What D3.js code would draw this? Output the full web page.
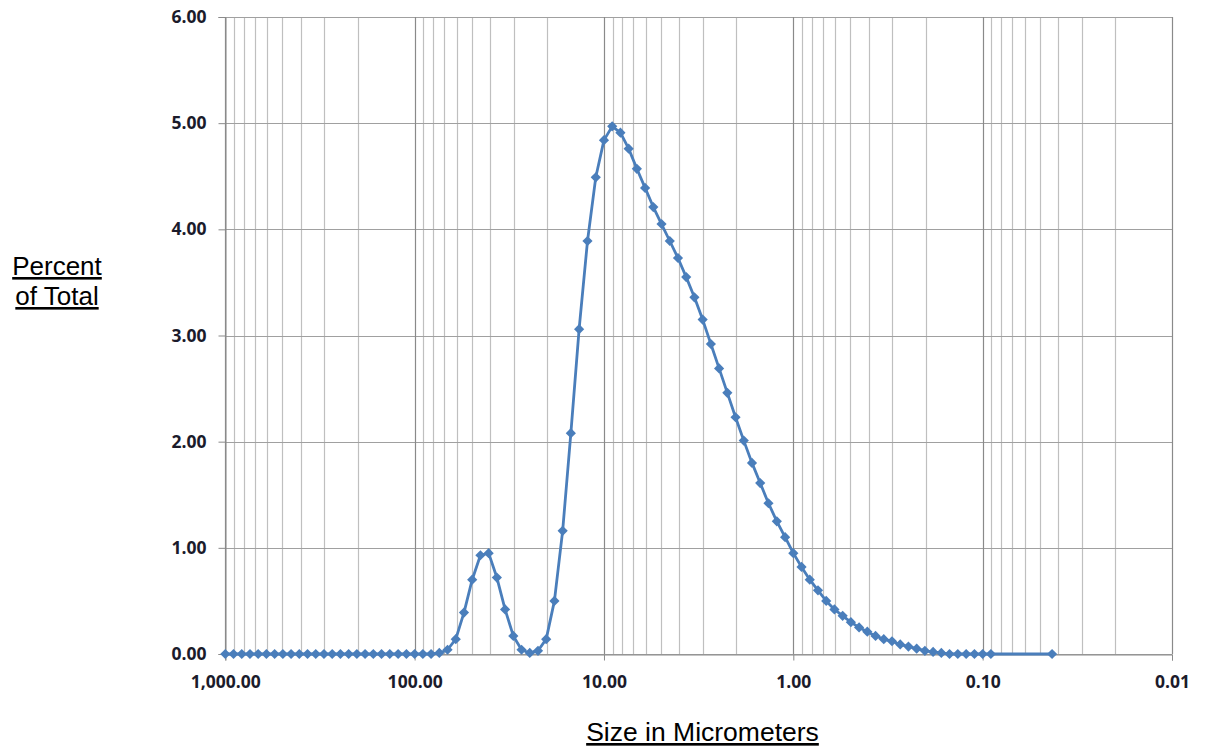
<!DOCTYPE html>
<html>
<head>
<meta charset="utf-8">
<script src="https://cdn.jsdelivr.net/npm/d3@7"></script>
<style>
  html, body { margin: 0; padding: 0; background: #ffffff; }
  svg { display: block; }
</style>
</head>
<body>
<svg id="chart" width="1206" height="751"></svg>
<script>
// ---------------- DATA ----------------
const sizes = [
  1000, 904.8, 818.7, 740.8, 670.3, 606.5, 548.8, 496.6, 449.3, 406.6, 367.9, 332.9,
  301.2, 272.5, 246.6, 223.1, 201.9, 182.7, 165.3, 149.6, 135.3, 122.2, 110.5,
  100, 90.48, 81.87, 74.08, 67.03, 60.65, 54.88, 49.66, 44.93, 40.66, 36.79, 33.29,
  30.12, 27.25, 24.66, 22.31, 20.19, 18.27, 16.53, 14.96, 13.53, 12.22, 11.05,
  10, 9.048, 8.187, 7.408, 6.703, 6.065, 5.488, 4.966, 4.493, 4.066, 3.679, 3.329,
  3.012, 2.725, 2.466, 2.231, 2.019, 1.827, 1.653, 1.496, 1.353, 1.222, 1.105,
  1, 0.9048, 0.8187, 0.7408, 0.6703, 0.6065, 0.5488, 0.4966, 0.4493, 0.4066, 0.3679, 0.3329,
  0.3012, 0.2725, 0.2466, 0.2231, 0.2019, 0.1827, 0.1653, 0.1496, 0.1353, 0.1222, 0.1105,
  0.1, 0.0905, 0.043
];
const percents = [
  0, 0, 0, 0, 0, 0, 0, 0, 0, 0, 0, 0,
  0, 0, 0, 0, 0, 0, 0, 0, 0, 0, 0,
  0, 0, 0, 0.01, 0.04, 0.14, 0.39, 0.70, 0.93, 0.95, 0.72, 0.42,
  0.17, 0.04, 0.01, 0.03, 0.14, 0.50, 1.16, 2.08, 3.06, 3.89, 4.49,
  4.84, 4.97, 4.91, 4.76, 4.57, 4.39, 4.21, 4.05, 3.89, 3.73, 3.55, 3.36,
  3.15, 2.92, 2.69, 2.46, 2.23, 2.01, 1.80, 1.61, 1.42, 1.25, 1.10,
  0.95, 0.82, 0.70, 0.60, 0.50, 0.42, 0.36, 0.30, 0.25, 0.21, 0.17, 0.14,
  0.12, 0.09, 0.07, 0.05, 0.03, 0.02, 0.01, 0, 0, 0, 0, 0,
  0, 0, 0
];
const xTickValues = [1000, 100, 10, 1, 0.1, 0.01];
const yTickValues = [0, 1, 2, 3, 4, 5, 6];
const yTitleLines = ["Percent", "of Total"];
const xTitle = "Size in Micrometers";

// ---------------- LAYOUT ----------------
const plot = { left: 225.3, right: 1172, top: 17, bottom: 654 };
const svg = d3.select("#chart");

const x = d3.scaleLog().domain([1000, 0.01]).range([plot.left, plot.right]);
const y = d3.scaleLinear().domain([0, 6]).range([plot.bottom, plot.top]);

const data = sizes.map((s, i) => ({ s, v: percents[i] }));

// ---------------- GRID ----------------
const gridVals = x.ticks();
const isMajor = v => Math.abs(Math.log10(v) - Math.round(Math.log10(v))) < 1e-6;

const grid = svg.append("g").attr("class", "grid");
grid.selectAll("line.minor")
  .data(gridVals.filter(v => !isMajor(v)))
  .join("line")
  .attr("x1", d => Math.round(x(d)) + 0.5).attr("x2", d => Math.round(x(d)) + 0.5)
  .attr("y1", plot.top).attr("y2", plot.bottom)
  .attr("stroke", "#bfbfbf").attr("stroke-width", 1.2);

grid.selectAll("line.h")
  .data(yTickValues)
  .join("line")
  .attr("x1", plot.left).attr("x2", plot.right)
  .attr("y1", d => Math.round(y(d)) + 0.5).attr("y2", d => Math.round(y(d)) + 0.5)
  .attr("stroke", "#a0a0a0").attr("stroke-width", 1.2);

grid.selectAll("line.major")
  .data(gridVals.filter(isMajor))
  .join("line")
  .attr("x1", d => Math.round(x(d)) + 0.5).attr("x2", d => Math.round(x(d)) + 0.5)
  .attr("y1", plot.top).attr("y2", plot.bottom)
  .attr("stroke", "#8a8a8a").attr("stroke-width", 1.2);

// ---------------- AXES ----------------
const labelFont = "'Open Sans', sans-serif";

const yAxis = svg.append("g")
  .attr("transform", `translate(${Math.round(plot.left) + 0.5},0)`)
  .call(d3.axisLeft(y).tickValues(yTickValues).tickFormat(d3.format(".2f")).tickSize(7).tickPadding(12));
yAxis.select(".domain").attr("stroke", "#8a8a8a");
yAxis.selectAll(".tick line").attr("stroke", "#8a8a8a");
yAxis.selectAll(".tick text")
  .attr("font-family", labelFont).attr("font-weight", 700).attr("font-size", "17.5px")
  .attr("fill", "#1b1b2b");

const xAxis = svg.append("g")
  .attr("transform", `translate(0,${Math.round(plot.bottom) + 0.5})`)
  .call(d3.axisBottom(x).tickValues(xTickValues).tickFormat(d3.format(",.2f")).tickSize(6).tickPadding(15));
xAxis.select(".domain").attr("stroke", "#8a8a8a");
xAxis.selectAll(".tick line").attr("stroke", "#8a8a8a");
xAxis.selectAll(".tick text")
  .attr("font-family", labelFont).attr("font-weight", 700).attr("font-size", "17.5px")
  .attr("fill", "#1b1b2b");

// ---------------- SERIES ----------------
const color = "#4a7ebb";
const line = d3.line().x(d => x(d.s)).y(d => y(d.v));
svg.append("path")
  .datum(data)
  .attr("d", line)
  .attr("fill", "none")
  .attr("stroke", color)
  .attr("stroke-width", 2.8)
  .attr("stroke-linejoin", "round");

const diamond = d3.symbol().type(d3.symbolSquare).size(52);
svg.append("g").selectAll("path")
  .data(data)
  .join("path")
  .attr("d", diamond)
  .attr("transform", d => `translate(${x(d.s)},${y(d.v)}) rotate(45)`)
  .attr("fill", color);

// ---------------- TITLES ----------------
const titleFont = "'Liberation Sans', Arial, sans-serif";
const yTitle = svg.append("g");
yTitleLines.forEach((t, i) => {
  yTitle.append("text")
    .attr("x", 57).attr("y", 275 + i * 30)
    .attr("text-anchor", "middle")
    .attr("font-family", titleFont).attr("font-size", "26px")
    .attr("fill", "#000")
    .attr("text-decoration", "underline")
    .text(t);
});

svg.append("text")
  .attr("x", 702.5).attr("y", 741)
  .attr("text-anchor", "middle")
  .attr("font-family", titleFont).attr("font-size", "26.5px")
  .attr("fill", "#000")
  .attr("text-decoration", "underline")
  .text(xTitle);
</script>
</body>
</html>
